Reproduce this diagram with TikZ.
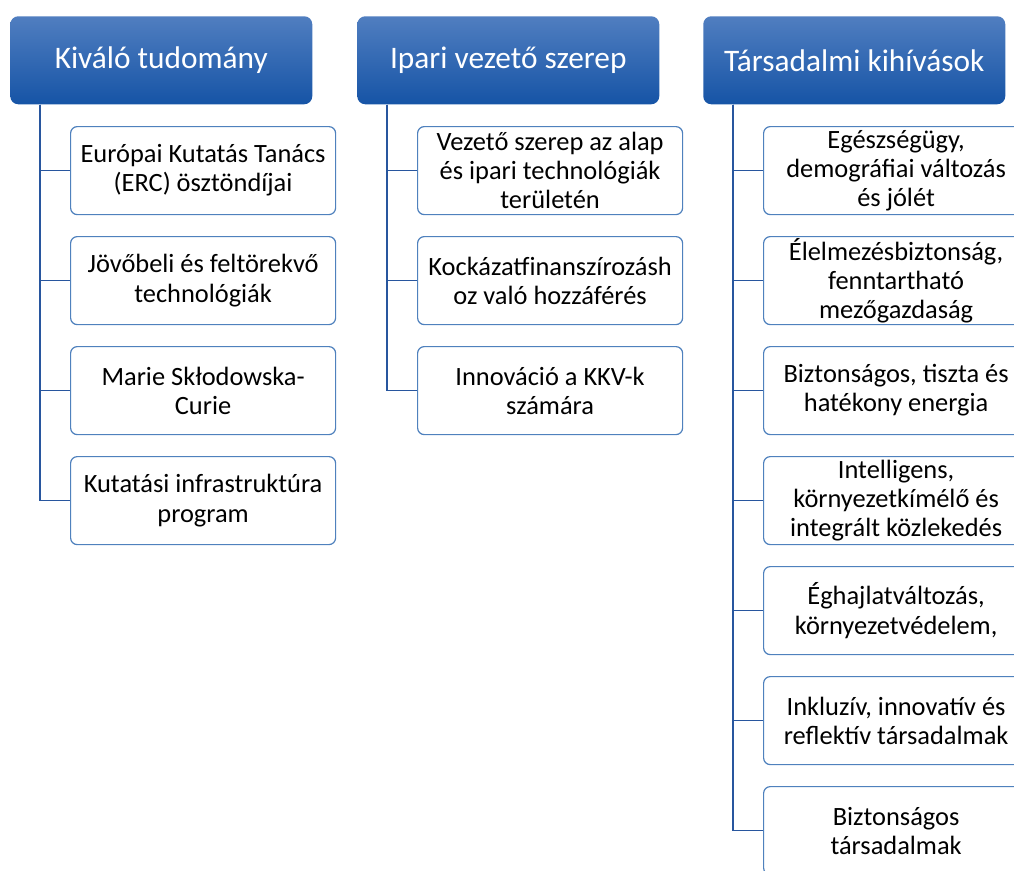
\documentclass[tikz,border=0pt]{standalone}
\usepackage{fontspec}
\setmainfont{Carlito}
\definecolor{hdrtop}{RGB}{80,126,192}
\definecolor{hdrbot}{RGB}{22,84,166}
\definecolor{boxline}{RGB}{79,129,189}
\definecolor{conn}{RGB}{40,86,158}
\begin{document}
\begin{tikzpicture}[x=0.75pt,y=-0.75pt,
  hdr/.style={rectangle,rounded corners=6pt,top color=hdrtop,bottom color=hdrbot,draw=none,
    minimum width=226.5pt,minimum height=66pt,inner sep=0pt,anchor=north west,
    text=white,font=\fontsize{23.5}{28}\selectfont},
  item/.style={rectangle,rounded corners=5pt,draw=boxline,line width=0.9pt,fill=white,
    minimum width=198.75pt,minimum height=66pt,inner sep=0pt,anchor=north west,
    align=center,text=black,font=\fontsize{19.8}{21.8}\selectfont},
  link/.style={draw=conn,line width=1pt}]
\useasboundingbox (0,0) rectangle (1014,871);
\clip (0,0) rectangle (1014,871);
% headers
\node[hdr] (h1) at (10,16) {Kiváló tudomány};
\node[hdr] (h2) at (357,16) {Ipari vezető szerep};
\node[hdr] (h3) at (703,16) {Társadalmi kihívások};
\coordinate (t1) at ([xshift=22.5pt]h1.south west);
\coordinate (t2) at ([xshift=22.5pt]h2.south west);
\coordinate (t3) at ([xshift=22.5pt]h3.south west);
% column 1
\node[item] (a1) at (70,126) {Európai Kutatás Tanács\\(ERC) ösztöndíjai};
\node[item] (a2) at (70,236) {Jövőbeli és feltörekvő\\technológiák};
\node[item] (a3) at (70,346) {Marie Skłodowska-\\Curie};
\node[item] (a4) at (70,456) {Kutatási infrastruktúra\\program};
% column 2
\node[item] (b1) at (417,126) {Vezető szerep az alap\\és ipari technológiák\\területén};
\node[item] (b2) at (417,236) {Kockázatfinanszírozásh\\oz való hozzáférés};
\node[item] (b3) at (417,346) {Innováció a KKV-k\\számára};
% column 3
\node[item] (c1) at (763,126) {Egészségügy,\\demográfiai változás\\és jólét};
\node[item] (c2) at (763,236) {Élelmezésbiztonság,\\fenntartható\\mezőgazdaság};
\node[item] (c3) at (763,346) {Biztonságos, tiszta és\\hatékony energia};
\node[item] (c4) at (763,456) {Intelligens,\\környezetkímélő és\\integrált közlekedés};
\node[item] (c5) at (763,566) {Éghajlatváltozás,\\környezetvédelem,};
\node[item] (c6) at (763,676) {Inkluzív, innovatív és\\reflektív társadalmak};
\node[item] (c7) at (763,786) {Biztonságos\\társadalmak};
% connectors
\foreach \n in {a1,a2,a3,a4} \draw[link] (t1) |- (\n.west);
\foreach \n in {b1,b2,b3} \draw[link] (t2) |- (\n.west);
\foreach \n in {c1,c2,c3,c4,c5,c6,c7} \draw[link] (t3) |- (\n.west);
\end{tikzpicture}
\end{document}
